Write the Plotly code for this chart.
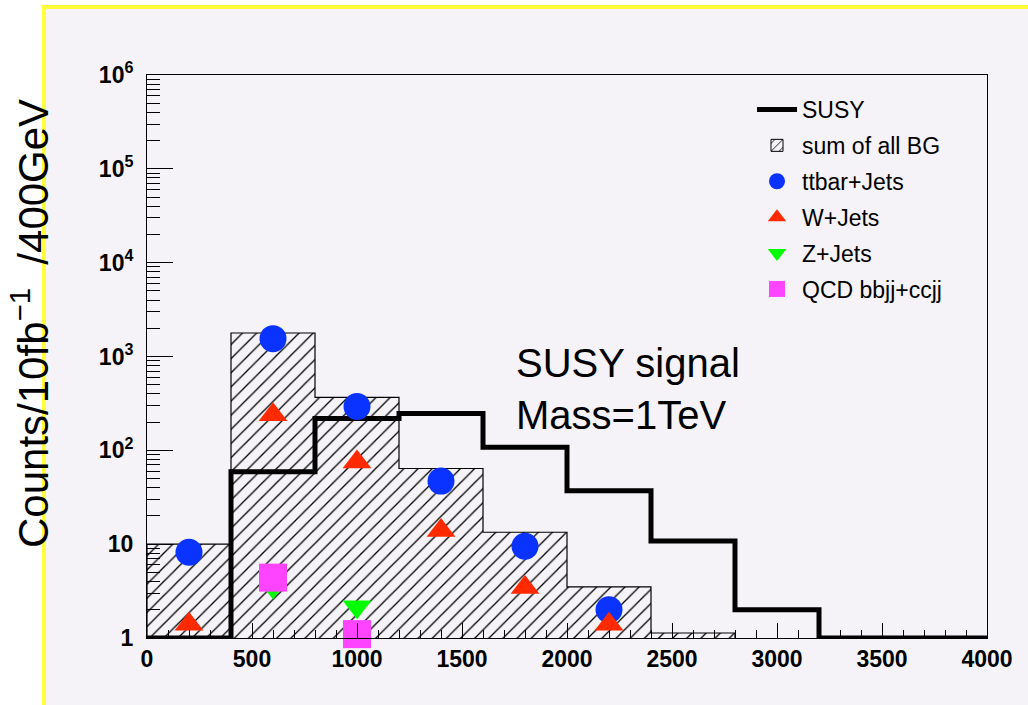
import plotly.graph_objects as go

# ---------------- data ----------------
bin_lo = [0, 400, 800, 1200, 1600, 2000, 2400, 2800, 3200, 3600]
bin_width = 400
bin_centers = [b + bin_width / 2 for b in bin_lo]

# sum of all backgrounds (bins 0..2800, below 1 afterwards)
bg_sum = [10, 1780, 366, 64, 13.4, 3.5, 1.13]
# SUSY signal (values that sit on the axis floor are given as 1)
susy = [1, 59, 219, 247, 108, 37, 10.8, 2.0, 1, 1]

ttbar = [8.2, 1550, 293, 47, 9.5, 2.0, None, None, None, None]
wjets = [1.4, 240, 75, 14, 3.45, 1.4, None, None, None, None]
zjets = [None, 3.5, 2.15, None, None, None, None, None, None, None]
qcd = [None, 4.4, 1.1, None, None, None, None, None, None, None]

x_tick_vals = [0, 500, 1000, 1500, 2000, 2500, 3000, 3500, 4000]
y_tick_vals = [1, 10, 100, 1000, 10000, 100000, 1000000]
y_tick_text = ["1", "10", "10<sup>2</sup>", "10<sup>3</sup>", "10<sup>4</sup>",
               "10<sup>5</sup>", "10<sup>6</sup>"]
y_minor_vals = [m * d for d in [1, 10, 100, 1000, 10000, 100000] for m in range(2, 10)]

# ---------------- styles ----------------
BG = "#F5F3F7"
FONT = "Liberation Sans, Arial, sans-serif"
BLUE = "#0b33ff"
RED = "#ff2a00"
GREEN = "#00ff00"
MAGENTA = "#ff44ff"

fig = go.Figure()

# hatched background histogram (no outline, contour drawn separately)
n_bg = len(bg_sum)
fig.add_trace(go.Bar(
    x=bin_centers[:n_bg], y=bg_sum, width=[bin_width] * n_bg,
    marker=dict(color="black", line=dict(width=0),
                pattern=dict(shape="/", fgcolor="black", bgcolor="rgba(0,0,0,0)",
                             size=10, solidity=0.13, fillmode="replace")),
    showlegend=False, hoverinfo="skip",
))

# BG contour (step outline)
bg_edges = bin_lo[:n_bg] + [bin_lo[n_bg - 1] + bin_width]
fig.add_trace(go.Scatter(
    x=[bg_edges[0]] + bg_edges + [bg_edges[-1]],
    y=[1] + bg_sum + [bg_sum[-1], 1],
    mode="lines", line=dict(color="black", width=1.2, shape="hv"),
    showlegend=False, hoverinfo="skip",
))

# SUSY step line
susy_edges = bin_lo + [bin_lo[-1] + bin_width]
fig.add_trace(go.Scatter(
    x=susy_edges, y=susy + [susy[-1]], name="SUSY", legendgroup="susy",
    mode="lines", line=dict(color="black", width=5, shape="hv"),
))

# legend entry for BG
fig.add_trace(go.Bar(
    x=[None], y=[None], name="sum of all BG", legendgroup="bg",
    marker=dict(color="black", line=dict(width=1, color="black"),
                pattern=dict(shape="/", fgcolor="black", bgcolor="rgba(0,0,0,0)",
                             size=7, solidity=0.15, fillmode="replace")),
))

def pts(name, vals, symbol, color, size):
    fig.add_trace(go.Scatter(
        x=bin_centers, y=vals, name=name, mode="markers", legendgroup=name,
        marker=dict(symbol=symbol, color=color, size=size, line=dict(width=0)),
        cliponaxis=False,
    ))

pts("ttbar+Jets", ttbar, "circle", BLUE, 27)
pts("W+Jets", wjets, "triangle-up", RED, 25)
pts("Z+Jets", zjets, "triangle-down", GREEN, 25)
pts("QCD bbjj+ccjj", qcd, "square", MAGENTA, 28)

# ---------------- layout ----------------
L, R, T, B = 147, 41, 75, 67
W, H = 1028, 705
pw, ph = W - L - R, H - T - B

def px_x(p):
    return (p - L) / pw

def px_y(p):
    return (H - B - p) / ph

fig.update_layout(
    width=W, height=H, autosize=False,
    margin=dict(l=L, r=R, t=T, b=B, pad=0),
    paper_bgcolor="white", plot_bgcolor=BG,
    barmode="overlay", bargap=0,
    font=dict(family=FONT, color="black"),
    showlegend=True,
    legend=dict(
        x=px_x(752), y=px_y(88), xanchor="left", yanchor="top",
        bgcolor="rgba(0,0,0,0)", borderwidth=0,
        font=dict(family=FONT, size=23, color="black"),
        itemwidth=40, tracegroupgap=3, traceorder="grouped",
    ),
    xaxis=dict(
        range=[0, 4000], showgrid=False, zeroline=False,
        showline=True, linecolor="black", linewidth=1, mirror=True,
        ticks="inside", ticklen=15, tickwidth=1, tickcolor="black",
        tickvals=x_tick_vals,
        tickfont=dict(family=FONT, size=23, color="black", weight="bold"),
        minor=dict(ticks="inside", ticklen=8, tickwidth=1, tickcolor="black", dtick=100),
    ),
    yaxis=dict(
        type="log", range=[0, 6], showgrid=False, zeroline=False,
        showline=True, linecolor="black", linewidth=1, mirror=True,
        ticks="inside", ticklen=26, tickwidth=1, tickcolor="black",
        tickvals=y_tick_vals, ticktext=y_tick_text, ticklabelstandoff=8,
        tickfont=dict(family=FONT, size=23, color="black", weight="bold"),
        minor=dict(ticks="inside", ticklen=13, tickwidth=1, tickcolor="black",
                   tickvals=y_minor_vals),
    ),
    shapes=[
        dict(type="rect", xref="paper", yref="paper", layer="below",
             x0=px_x(44), x1=px_x(1040), y0=px_y(7), y1=px_y(720),
             fillcolor=BG, line=dict(width=0)),
        dict(type="rect", xref="paper", yref="paper", layer="above",
             x0=px_x(44), x1=px_x(1040), y0=px_y(7), y1=px_y(720),
             fillcolor="rgba(0,0,0,0)", line=dict(width=4, color="#ffff3a")),
    ],
    annotations=[
        dict(text="SUSY signal<br>Mass=1TeV", xref="paper", yref="paper",
             x=px_x(514), y=px_y(389), xanchor="left", yanchor="middle",
             align="left", showarrow=False,
             font=dict(family=FONT, size=40, color="black")),
        dict(text="Counts/10fb<sup>−1</sup>  /400GeV", xref="paper", yref="paper",
             x=px_x(30), y=px_y(324), xanchor="center", yanchor="middle",
             textangle=-90, showarrow=False,
             font=dict(family=FONT, size=42, color="black")),
    ],
)

fig.write_html("out.html")
